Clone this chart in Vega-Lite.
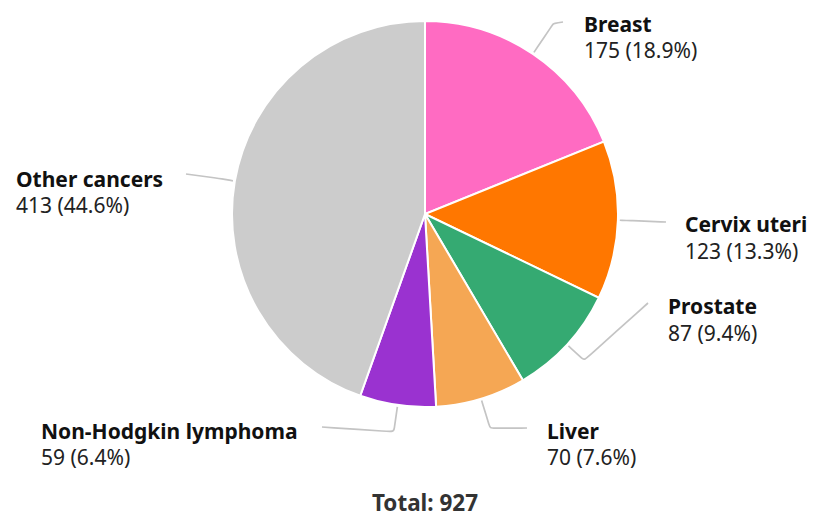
{
  "$schema": "https://vega.github.io/schema/vega-lite/v6.json",
  "width": 814,
  "height": 519,
  "autosize": {"type": "fit", "contains": "padding"},
  "padding": 0,
  "background": "white",
  "config": {"view": {"stroke": null}, "font": "Noto Sans"},
  "data": {
    "values": [
      {"category": "Breast", "value": 175},
      {"category": "Cervix uteri", "value": 123},
      {"category": "Prostate", "value": 87},
      {"category": "Liver", "value": 70},
      {"category": "Non-Hodgkin lymphoma", "value": 59},
      {"category": "Other cancers", "value": 413}
    ]
  },
  "transform": [
    {"window": [{"op": "sum", "field": "value", "as": "cum"}], "frame": [null, 0]},
    {"joinaggregate": [{"op": "sum", "field": "value", "as": "total"}]},
    {"calculate": "(datum.cum - datum.value) / datum.total", "as": "f0"},
    {"calculate": "datum.cum / datum.total", "as": "f1"},
    {"calculate": "2 * PI * (datum.cum - datum.value / 2) / datum.total", "as": "ang"},
    {"calculate": "format(datum.value, 'd') + ' (' + format(100 * datum.value / datum.total, '.1f') + '%)'", "as": "vlabel"},
    {"calculate": "datum.category==='Breast'?1.19:datum.category==='Cervix uteri'?1.08:datum.category==='Prostate'?1.12:datum.category==='Liver'?1.16:datum.category==='Non-Hodgkin lymphoma'?1.14:1.08", "as": "re"},
    {"calculate": "datum.category==='Breast'?0.7150:datum.category==='Cervix uteri'?1.2487:datum.category==='Prostate'?1.1554:datum.category==='Liver'?0.5285:datum.category==='Non-Hodgkin lymphoma'?-0.5337:-1.2383", "as": "endx"},
    {"calculate": "datum.category==='Breast'?0.9948:datum.category==='Cervix uteri'?-0.0415:datum.category==='Prostate'?-0.4611:datum.category==='Liver'?-1.1088:datum.category==='Non-Hodgkin lymphoma'?-1.1036:0.2073", "as": "endy"},
    {"calculate": "datum.category==='Breast'?0.8238:datum.category==='Cervix uteri'?1.3472:datum.category==='Prostate'?1.2591:datum.category==='Liver'?0.6321:datum.category==='Non-Hodgkin lymphoma'?-1.9896:-2.1192", "as": "lx"},
    {"calculate": "datum.category==='Breast'?0.9793:datum.category==='Cervix uteri'?-0.0570:datum.category==='Prostate'?-0.4819:datum.category==='Liver'?-1.1295:datum.category==='Non-Hodgkin lymphoma'?-1.1295:0.1762", "as": "ly"}
  ],
  "layer": [
    {
      "mark": {"type": "arc", "outerRadius": 193, "stroke": "white", "strokeWidth": 2},
      "encoding": {
        "x": {"datum": 0, "type": "quantitative", "scale": {"domain": [-2.20207, 2.01554], "nice": false, "zero": false}, "axis": null},
        "y": {"datum": 0, "type": "quantitative", "scale": {"domain": [-1.58031, 1.10881], "nice": false, "zero": false}, "axis": null},
        "theta": {"field": "f0", "type": "quantitative", "scale": {"type": "linear", "domain": [0, 1], "range": [0, 6.283185307179586]}, "stack": null},
        "theta2": {"field": "f1"},
        "color": {
          "field": "category", "type": "nominal", "legend": null,
          "scale": {
            "domain": ["Breast", "Cervix uteri", "Prostate", "Liver", "Non-Hodgkin lymphoma", "Other cancers"],
            "range": ["#ff6bc2", "#ff7700", "#35aa72", "#f5a754", "#9a32d0", "#cccccc"]
          }
        }
      }
    },
    {
      "transform": [
        {"calculate": "0", "as": "p0"},
        {"calculate": "1", "as": "p1"},
        {"calculate": "2", "as": "p2"},
        {"calculate": "3", "as": "p3"},
        {"fold": ["p0", "p1", "p2", "p3"], "as": ["pt", "idx"]},
        {"calculate": "datum.idx===0 ? 1.01*sin(datum.ang) : datum.idx===3 ? datum.endx : datum.re*sin(datum.ang)", "as": "px"},
        {"calculate": "datum.idx===0 ? 1.01*cos(datum.ang) : datum.idx===3 ? datum.endy : datum.re*cos(datum.ang)", "as": "py"}
      ],
      "mark": {"type": "line", "color": "#c4c4c4", "strokeWidth": 1.7, "interpolate": "basis"},
      "encoding": {
        "x": {"field": "px", "type": "quantitative", "scale": {"domain": [-2.20207, 2.01554], "nice": false, "zero": false}, "axis": null},
        "y": {"field": "py", "type": "quantitative", "scale": {"domain": [-1.58031, 1.10881], "nice": false, "zero": false}, "axis": null},
        "detail": {"field": "category", "type": "nominal"},
        "order": {"field": "idx", "type": "quantitative"}
      }
    },
    {
      "mark": {"type": "text", "align": "left", "baseline": "middle", "fontSize": 21, "fontWeight": "bold", "color": "#111111", "font": "Noto Sans", "dy": 1},
      "encoding": {
        "x": {"field": "lx", "type": "quantitative", "scale": {"domain": [-2.20207, 2.01554], "nice": false, "zero": false}, "axis": null},
        "y": {"field": "ly", "type": "quantitative", "scale": {"domain": [-1.58031, 1.10881], "nice": false, "zero": false}, "axis": null},
        "text": {"field": "category", "type": "nominal"}
      }
    },
    {
      "mark": {"type": "text", "align": "left", "baseline": "middle", "fontSize": 21, "dy": 27.5, "color": "#222222", "font": "Noto Sans"},
      "encoding": {
        "x": {"field": "lx", "type": "quantitative", "scale": {"domain": [-2.20207, 2.01554], "nice": false, "zero": false}, "axis": null},
        "y": {"field": "ly", "type": "quantitative", "scale": {"domain": [-1.58031, 1.10881], "nice": false, "zero": false}, "axis": null},
        "text": {"field": "vlabel", "type": "nominal"}
      }
    },
    {
      "transform": [
        {"aggregate": [{"op": "sum", "field": "value", "as": "tot"}]},
        {"calculate": "'Total: ' + format(datum.tot, 'd')", "as": "ttext"}
      ],
      "mark": {"type": "text", "align": "center", "baseline": "middle", "fontSize": 22.5, "fontWeight": "bold", "color": "#333333", "font": "Noto Sans"},
      "encoding": {
        "x": {"datum": 0, "type": "quantitative", "scale": {"domain": [-2.20207, 2.01554], "nice": false, "zero": false}, "axis": null},
        "y": {"datum": -1.5026, "type": "quantitative", "scale": {"domain": [-1.58031, 1.10881], "nice": false, "zero": false}, "axis": null},
        "text": {"field": "ttext", "type": "nominal"}
      }
    }
  ]
}
